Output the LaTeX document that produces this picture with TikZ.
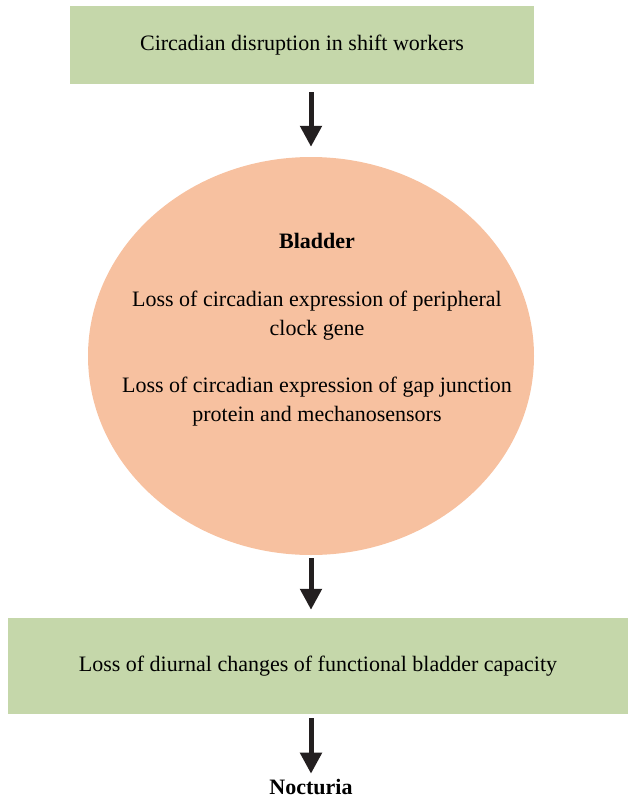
\documentclass[tikz,border=0pt]{standalone}
\usepackage{fontspec}
\setmainfont{Liberation Serif}
\usetikzlibrary{arrows.meta,shapes.geometric}

\definecolor{boxgreen}{RGB}{197,215,170}
\definecolor{peach}{RGB}{247,193,160}
\definecolor{arrowblack}{RGB}{35,31,32}

\tikzset{
  greenbox/.style={fill=boxgreen,inner sep=0pt,font=\fontsize{22}{29}\selectfont},
  flow/.style={arrowblack,line width=5pt,-{Triangle[width=21pt,length=21pt]}},
}

\begin{document}
\begin{tikzpicture}[x=1pt,y=1pt]
  \useasboundingbox (0,0) rectangle (628,-801);
  \node [greenbox,minimum width=464pt,minimum height=78pt] (shift) at (302,-45) {Circadian disruption in shift workers};
  \node [ellipse,fill=peach,minimum width=446pt,minimum height=398pt,inner sep=0pt] (bladder) at (311,-356) {};
  \node [align=center,font=\fontsize{22}{29}\selectfont] (bladdertxt) at (317,-330)
    {\textbf{Bladder}\\[29pt]Loss of circadian expression of peripheral\\clock gene\\[28pt]Loss of circadian expression of gap junction\\protein and mechanosensors};
  \node [greenbox,minimum width=620pt,minimum height=96pt] (capacity) at (318,-666) {Loss of diurnal changes of functional bladder capacity};
  \node [font=\fontsize{22}{29}\selectfont\bfseries] (nocturia) at (311,-787) {Nocturia};
  \draw [flow,shorten <=8pt,shorten >=10pt] (shift.south -| bladder.center) -- (bladder.north);
  \draw [flow,shorten <=3pt,shorten >=8pt] (bladder.south) -- (capacity.north -| bladder.center);
  \draw [flow,shorten <=4pt,shorten >=2pt] (capacity.south -| bladder.center) -- (nocturia.north);
\end{tikzpicture}
\end{document}
